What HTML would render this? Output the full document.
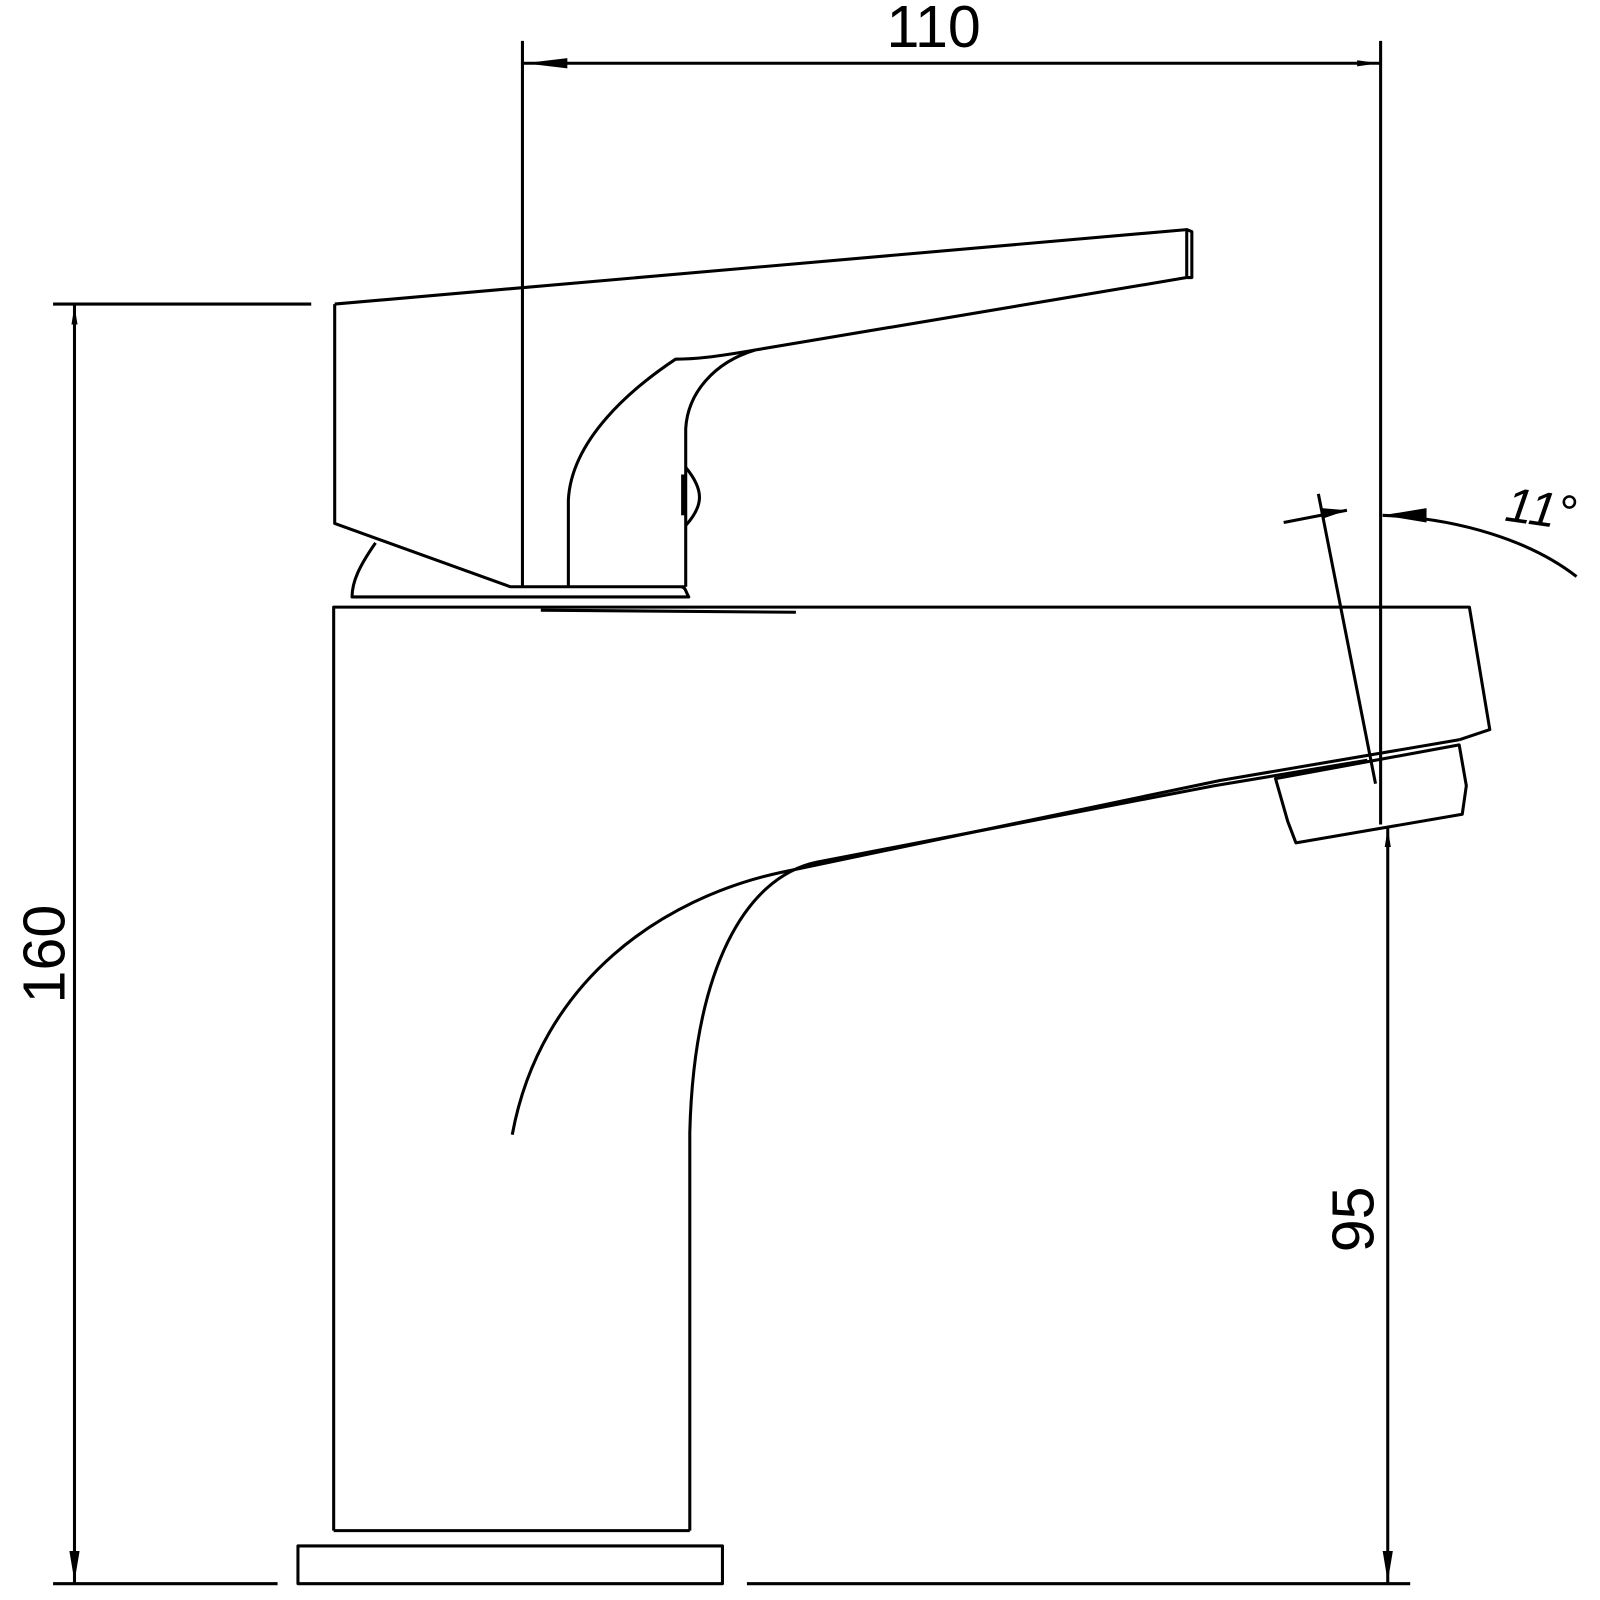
<!DOCTYPE html>
<html><head><meta charset="utf-8"><style>
html,body{margin:0;padding:0;background:#fff;}
svg{display:block;}
text{font-family:"Liberation Sans",sans-serif;fill:#000;}
</style></head><body>
<svg width="1600" height="1600" viewBox="0 0 1568 1568" xmlns="http://www.w3.org/2000/svg">
<g fill="none" stroke="#000" stroke-width="3" stroke-linejoin="round">
<line x1="512" y1="40" x2="512" y2="575"/>
<line x1="1353" y1="40" x2="1353" y2="808"/>
<line x1="512" y1="62" x2="1353" y2="62"/>
<line x1="52" y1="298" x2="305" y2="298"/>
<line x1="52" y1="1552" x2="272" y2="1552"/>
<line x1="73" y1="298" x2="73" y2="1552"/>
<line x1="732" y1="1552" x2="1382" y2="1552"/>
<line x1="1360" y1="810" x2="1360" y2="1552"/>
<line x1="1292" y1="484" x2="1348" y2="768"/>
<line x1="1258" y1="512" x2="1320" y2="500"/>
<path d="M1355,505 C1430,508 1500,530 1545,565"/>
<path d="M328,298 L1163,225 L1168,227 L1168,272 L1163,272"/>
<line x1="1163" y1="225" x2="1163" y2="272"/>
<path d="M1163,272 L740,343 C700,350 680,352 662,352 C620,380 560,430 557,490 L557,575"/>
<path d="M740,343 C700,355 674,385 672,420 L672,575"/>
<path d="M328,298 L328,513 L500,575 L672,575"/>
<path d="M672,458 C690,480 690,495 672,515"/>
<line x1="670" y1="465" x2="670" y2="505" stroke-width="5"/>
<path d="M368,532 C352,555 345,570 345,585 L675,585 C672,580 672,576 668,575"/>
<path d="M327,1500 L327,595 L1440,595 L1460,715 L1430,725"/>
<path d="M530,598 L780,600"/>
<path d="M1430,725 L1195,765 L765,855 C650,880 530,960 502,1112"/>
<path d="M1340,745 L1190,770 L800,845 C730,860 680,950 676,1110 L676,1500"/>
<path d="M1250,763 L1430,730 L1437,770 L1433,798 L1270,826 L1262,805 Z"/>
<line x1="327" y1="1500" x2="676" y2="1500"/>
<rect x="292" y="1515" width="416" height="37"/>
</g>
<g fill="#000">
<polygon points="514,62 556,57 556,67"/>
<polygon points="1351,62 1330,59 1330,65"/>
<polygon points="73,300 70,318 76,318"/>
<polygon points="73,1550 68,1520 78,1520"/>
<polygon points="1360,1550 1355,1520 1365,1520"/>
<polygon points="1360,812 1357,830 1363,830"/>
<polygon points="1355,505 1398,498 1398,512"/>
<polygon points="1320,500 1295,498 1297,508"/>
</g>
<text x="915" y="46" font-size="58" text-anchor="middle">110</text>
<text transform="translate(63,935) rotate(-90)" font-size="58" text-anchor="middle">160</text>
<text transform="translate(1346,1195) rotate(-90)" font-size="58" text-anchor="middle">95</text>
<text x="1510" y="515" font-size="48" font-style="italic" text-anchor="middle" transform="rotate(8 1510 500)">11°</text>
</svg>
</body></html>
